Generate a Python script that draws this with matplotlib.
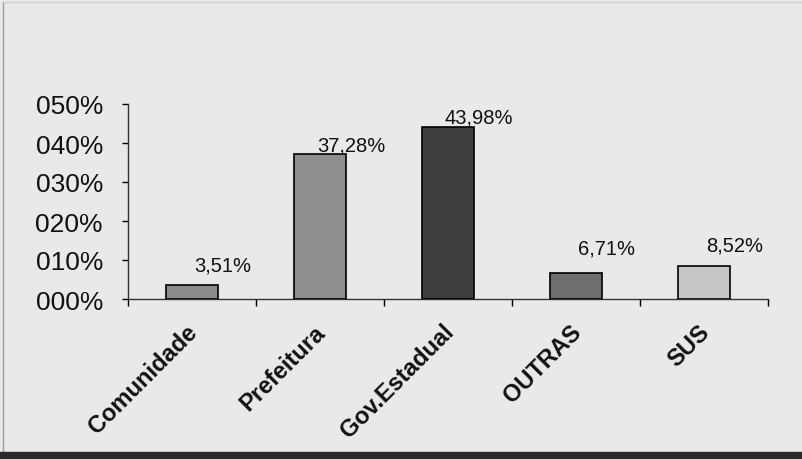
import matplotlib.pyplot as plt
from matplotlib.lines import Line2D
from matplotlib.patches import Rectangle
from matplotlib.transforms import ScaledTranslation

categorias = ["Comunidade", "Prefeitura", "Gov.Estadual", "OUTRAS", "SUS"]
percentuais = [3.51, 37.28, 43.98, 6.71, 8.52]
y_ticks = [0, 10, 20, 30, 40, 50]

cores = ["#8a8a8a", "#8e8e8e", "#3e3e3e", "#6e6e6e", "#c6c6c6"]
# deslocamento vertical dos rotulos (px acima do topo da barra), como no original
desloc_rotulo = [15, 3, 5, 19, 15]

plt.rcParams['font.family'] = ['Liberation Sans', 'DejaVu Sans']
fundo = "#e9e9e9"

fig = plt.figure(figsize=(8.03, 4.60), dpi=100, facecolor=fundo)
ax = fig.add_axes([128 / 803, 1 - 300 / 460, 640 / 803, 195 / 460])
ax.set_facecolor(fundo)

x = list(range(len(categorias)))
ax.bar(x, percentuais, width=0.41, color=cores, edgecolor="black", linewidth=1.2, zorder=3)

for xi, v, dy in zip(x, percentuais, desloc_rotulo):
    ax.annotate(f"{v:.2f}".replace(".", ",") + "%", (xi, v),
                xytext=(31 * 0.72, dy * 0.72), textcoords="offset points",
                ha="center", va="baseline", fontsize=14.5, color="#111111")

ax.set_xlim(-0.5, 4.5)
ax.set_ylim(0, 50)
ax.set_yticks(y_ticks)
ax.set_yticklabels([f"{t:03d}%" for t in y_ticks], fontsize=19, color="#111111")
ax.tick_params(axis="y", length=4, width=1, pad=14, direction="out")

ax.set_xticks(x)
ax.set_xticklabels(categorias, rotation=45, ha="right", va="top",
                   rotation_mode="anchor", fontsize=17, fontweight="bold", color="#111111")
ax.tick_params(axis="x", which="major", length=0, pad=15)
desloc = ScaledTranslation(-6 / 100, 0, fig.dpi_scale_trans)
for lbl in ax.get_xticklabels():
    lbl.set_transform(lbl.get_transform() + desloc)
ax.set_xticks([i - 0.5 for i in range(len(categorias) + 1)], minor=True)
ax.tick_params(axis="x", which="minor", length=5, width=1, direction="out")

for s in ["top", "right"]:
    ax.spines[s].set_visible(False)
for s in ["left", "bottom"]:
    ax.spines[s].set_color("#333333")
    ax.spines[s].set_linewidth(1)

# bordas do recorte escaneado
fig.add_artist(Line2D([3 / 803, 3 / 803], [8 / 460, 1 - 3 / 460], color="#9a9a9a", lw=1))
fig.add_artist(Line2D([3 / 803, 1], [1 - 3 / 460, 1 - 3 / 460], color="#cfcfcf", lw=1))
fig.add_artist(Rectangle((0, 0), 1, 7 / 460, transform=fig.transFigure,
                         color="#2a2a2a", zorder=5))

fig.savefig("out.png", dpi=100, facecolor=fundo)
